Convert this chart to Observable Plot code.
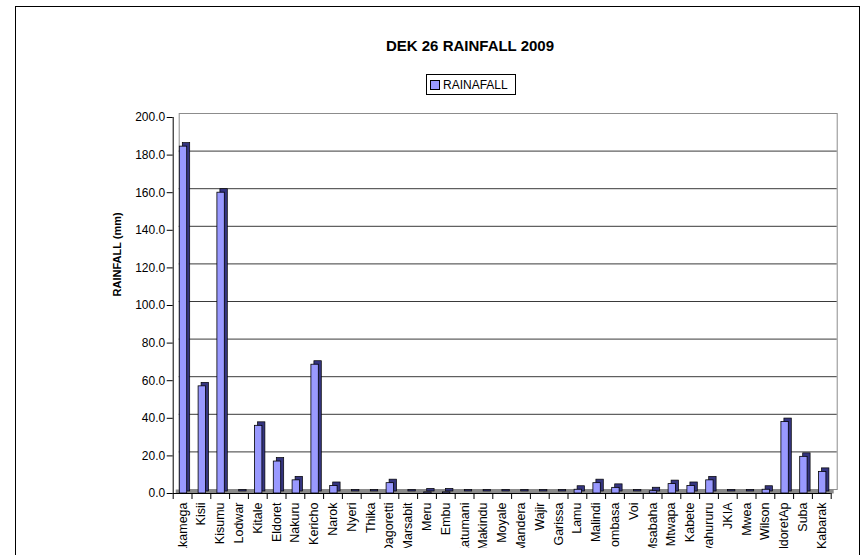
<!DOCTYPE html>
<html>
<head>
<meta charset="utf-8">
<script src="https://cdn.jsdelivr.net/npm/d3@7"></script>
<script src="https://cdn.jsdelivr.net/npm/@observablehq/plot@0.6"></script>
<style>
  html, body { margin: 0; padding: 0; background: #fff; overflow: hidden; }
  body { width: 864px; height: 555px; position: relative; font-family: "Liberation Sans", Arial, sans-serif; }
  #border { position: absolute; left: 15px; top: 6px; width: 845px; height: 600px; border: 1.5px solid #000; box-sizing: border-box; }
  #title { position: absolute; left: 320px; width: 300px; top: 37px; text-align: center; font-weight: bold; font-size: 15px; line-height: 18px; }
  #legend { position: absolute; left: 426px; top: 74px; width: 90px; height: 21px; border: 1px solid #000; box-sizing: border-box; display: flex; align-items: center; font-size: 12px; }
  #legend .sw { width: 8px; height: 8px; background: #9999ff; border: 1px solid #000; margin: 0 3px 0 3px; }
  #chart { position: absolute; left: 0; top: 0; }
</style>
</head>
<body>
<div id="border"></div>
<div id="title"></div>
<div id="legend"><span class="sw"></span><span id="legtext"></span></div>
<div id="chart"></div>
<script>
const chartTitle = "DEK 26 RAINFALL 2009";
const seriesName = "RAINAFALL";
const yLabel = "RAINFALL (mm)";
const categories = ["Kakamega","Kisii","Kisumu","Lodwar","Kitale","Eldoret","Nakuru","Kericho","Narok","Nyeri","Thika","Dagoretti","Marsabit","Meru","Embu","Katumani","Makindu","Moyale","Mandera","Wajir","Garissa","Lamu","Malindi","Mombasa","Voi","Msabaha","Mtwapa","Kabete","Nyahururu","JKIA","Mwea","Wilson","EldoretAp","Suba","Kabarak"];
const values = [184.5,57,160,0,36,17,7,68.5,4,0,0,5.5,0,0.6,0.6,0,0,0,0,0,0,2,5.5,3,0,1.2,5,4,7,0,0,2,38,19.5,11.5];
const yTicks = [0,20,40,60,80,100,120,140,160,180,200];

document.getElementById("title").textContent = chartTitle;
document.getElementById("legtext").textContent = seriesName;

const rows = categories.map((name, i) => ({name, value: values[i], i}));
const n = categories.length;

const plot = Plot.plot({
  width: 864,
  height: 548,
  marginLeft: 172.7,
  marginRight: 33.3,
  marginTop: 117,
  marginBottom: 55,
  x: {domain: [0, n], axis: null},
  y: {domain: [0, 200], axis: null},
  style: {fontFamily: '"Liberation Sans", Arial, sans-serif', fontSize: "12px", color: "#000", background: "transparent", overflow: "hidden"},
  marks: [
    Plot.frame({stroke: "#8c8c8c", dx: 6, dy: -4}),
    Plot.ruleY(yTicks.filter(t => t > 0 && t < 200), {dx: 6, dy: -4, stroke: "#3a3a3a"}),
    Plot.ruleY([0], {dx: 3, dy: -2, stroke: "#8a8a8a", strokeWidth: 4}),
    Plot.rectY(rows, {x1: "i", x2: d => d.i + 1, y: "value", insetLeft: 6.6, insetRight: 4.8, insetTop: -1.5, dx: 3, dy: -2, fill: "#35357f", stroke: "#000", strokeWidth: 0.7}),
    Plot.rectY(rows, {x1: "i", x2: d => d.i + 1, y: "value", insetLeft: 6.6, insetRight: 4.8, fill: "#9999ff", stroke: "#000", strokeWidth: 0.8}),
    Plot.ruleX([0], {stroke: "#000"}),
    Plot.ruleY([0], {stroke: "#000"}),
    Plot.axisY({ticks: yTicks, tickSize: 6, tickPadding: 2, tickFormat: d3.format(".1f"), fontSize: 12, label: null}),
    Plot.axisX({ticks: d3.range(0, n + 1), tickSize: 6, tickFormat: () => "", label: null}),
    Plot.axisX({ticks: rows.map(d => d.i + 0.5), tickFormat: v => categories[Math.floor(v)], tickRotate: -90, tickSize: 0, tickPadding: 9, fontSize: 12.5, label: null}),
    Plot.text([yLabel], {frameAnchor: "left", text: d => d, rotate: -90, dx: -56, dy: -9, fontWeight: "bold", fontSize: 11, fill: "#000"})
  ]
});
document.getElementById("chart").appendChild(plot);
</script>
</body>
</html>
